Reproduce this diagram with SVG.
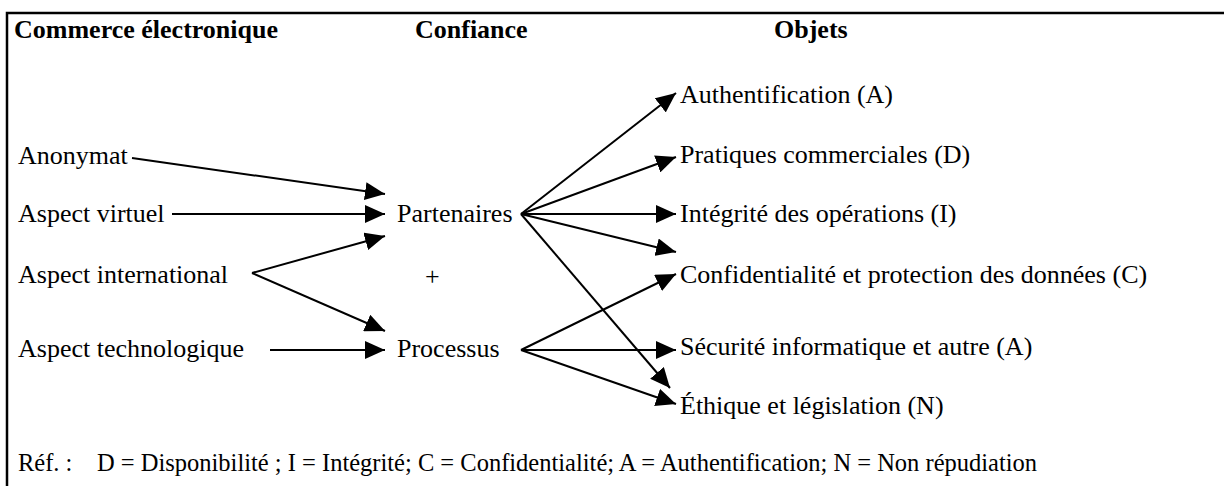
<svg xmlns="http://www.w3.org/2000/svg" width="1224" height="486" viewBox="0 0 1224 486" font-family="'Liberation Serif', 'Times New Roman', serif">
<style>
text{font-size:26px;fill:#000}
.h{font-weight:bold}
.ref{font-size:24.5px}
.c line{stroke:#000;stroke-width:2;marker-end:url(#ah)}
.frame{stroke:#000;stroke-width:2.5;fill:none}
</style>
<defs>
<marker id="ah" markerUnits="userSpaceOnUse" markerWidth="20" markerHeight="18" refX="20" refY="9" orient="auto" viewBox="0 0 20 18">
<path d="M0,0 L20,9 L0,18 z" fill="#000"/>
</marker>
</defs>
<rect width="1224" height="486" fill="#fff"/>
<path class="frame" d="M7,486 V13 H1224"/>
<g id="headers" font-family="Liberation Serif">
<text class="h" x="14" y="38">Commerce électronique</text>
<text class="h" x="415" y="38">Confiance</text>
<text class="h" x="774" y="38">Objets</text>
</g>
<g id="n-anonymat"><text x="18" y="164">Anonymat</text></g>
<g id="n-virtuel"><text x="18" y="222">Aspect virtuel</text></g>
<g id="n-international"><text x="18" y="283">Aspect international</text></g>
<g id="n-technologique"><text x="18" y="357">Aspect technologique</text></g>
<g id="n-partenaires"><text x="397" y="222">Partenaires</text></g>
<g id="n-plus"><text x="425" y="285">+</text></g>
<g id="n-processus"><text x="397" y="357">Processus</text></g>
<g id="n-auth"><text x="680" y="103">Authentification (A)</text></g>
<g id="n-pratiques"><text x="680" y="163">Pratiques commerciales (D)</text></g>
<g id="n-integrite"><text x="680" y="222">Intégrité des opérations (I)</text></g>
<g id="n-confid"><text x="680" y="283">Confidentialité et protection des données (C)</text></g>
<g id="n-securite"><text x="680" y="355">Sécurité informatique et autre (A)</text></g>
<g id="n-ethique"><text x="680" y="414">Éthique et législation (N)</text></g>
<g id="ref"><text class="ref" y="471"><tspan x="18">Réf. :</tspan><tspan x="97">D = Disponibilité ; I = Intégrité; C = Confidentialité; A = Authentification; N = Non répudiation</tspan></text></g>
<g id="connectors" class="c">
<line x1="132" y1="158" x2="385" y2="194"/>
<line x1="172" y1="214" x2="385" y2="214"/>
<line x1="252" y1="273" x2="385" y2="236"/>
<line x1="252" y1="273" x2="385" y2="331"/>
<line x1="270" y1="350" x2="385" y2="350"/>
<line x1="521" y1="214" x2="676" y2="93"/>
<line x1="521" y1="214" x2="676" y2="157"/>
<line x1="521" y1="214" x2="676" y2="214"/>
<line x1="521" y1="214" x2="676" y2="252"/>
<line x1="521" y1="214" x2="670" y2="388"/>
<line x1="521" y1="350" x2="676" y2="274"/>
<line x1="521" y1="350" x2="676" y2="404"/>
<line x1="521" y1="350" x2="676" y2="350"/>
</g>
</svg>
